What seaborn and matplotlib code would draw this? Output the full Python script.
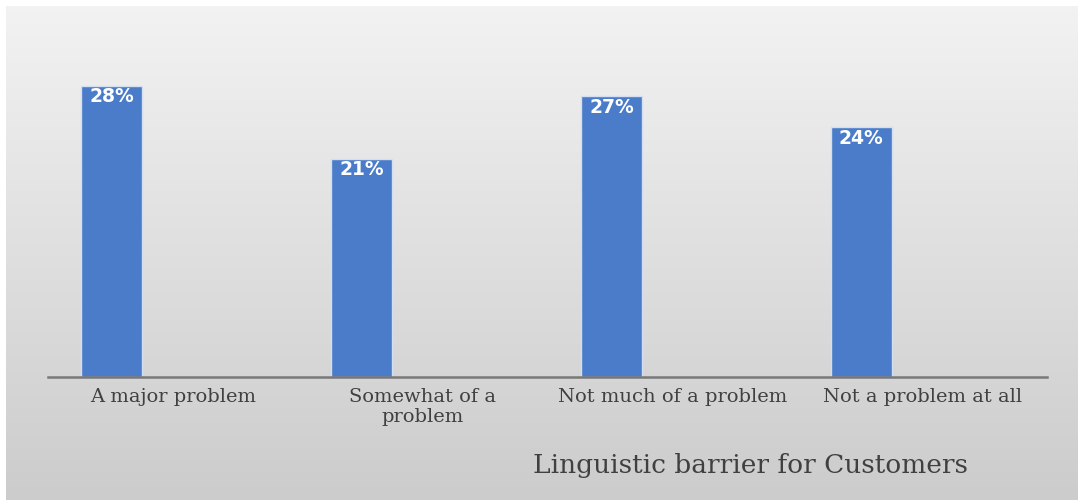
import numpy as np
import pandas as pd
import matplotlib
matplotlib.use("Agg")
import matplotlib.pyplot as plt
import seaborn as sns

# chart data
categories = ["A major problem", "Somewhat of a\nproblem",
              "Not much of a problem", "Not a problem at all"]
values = [28, 21, 27, 24]
value_labels = ["28%", "21%", "27%", "24%"]
series_names = ["Series1", "Series2", "Series3"]   # only the first one has data
x_title = "Linguistic barrier for Customers"

BAR_BLUE = "#4a7cc9"
TEXT_GRAY = "#404040"

df = pd.DataFrame({"category": categories, "value": values, "series": series_names[0]})

sns.set_theme(style="white")

fig = plt.figure(figsize=(10.82, 5.0), dpi=100)
fig.patch.set_facecolor("white")

# grey gradient panel behind the chart
bg = fig.add_axes([6 / 1082, 0, 1072 / 1082, 494 / 500])
grad = np.linspace(0.95, 0.80, 256).reshape(-1, 1)
bg.imshow(np.dstack([grad, grad, grad]), aspect="auto", extent=[0, 1, 0, 1])
bg.set_axis_off()

ax = fig.add_axes([48 / 1082, 123 / 500, 999 / 1082, 312 / 500])
ax.set_facecolor("none")

sns.barplot(
    data=df, x="category", y="value", hue="series",
    order=categories, hue_order=series_names,
    palette={s: BAR_BLUE for s in series_names}, saturation=1,
    width=0.732, dodge=True, legend=False, ax=ax,
    edgecolor="#d3def0", linewidth=1.0,
)
ax.set_ylim(0, 30)
ax.set_xlim(-0.5, len(categories) - 0.5)

# value labels just inside the top of each bar
for patch, lab in zip(ax.patches, value_labels):
    ax.annotate(lab, (patch.get_x() + patch.get_width() / 2, patch.get_height()),
                xytext=(0, -1), textcoords="offset points",
                ha="center", va="top", color="white",
                fontsize=13.5, fontweight="heavy", family="DejaVu Sans")

for side in ["top", "left", "right"]:
    ax.spines[side].set_visible(False)
ax.spines["bottom"].set_color("#787878")
ax.spines["bottom"].set_linewidth(1.8)
ax.set_yticks([])
ax.set_ylabel("")
ax.set_xlabel("")
ax.tick_params(axis="x", length=0, pad=8)
for t in ax.get_xticklabels():
    t.set_family("DejaVu Serif")
    t.set_fontsize(14)
    t.set_color(TEXT_GRAY)
    t.set_linespacing(1.1)

ax.text(0.703, -0.285, x_title, transform=ax.transAxes, ha="center", va="center",
        family="DejaVu Serif", fontsize=19, color=TEXT_GRAY)

fig.savefig("out.png", dpi=100)
